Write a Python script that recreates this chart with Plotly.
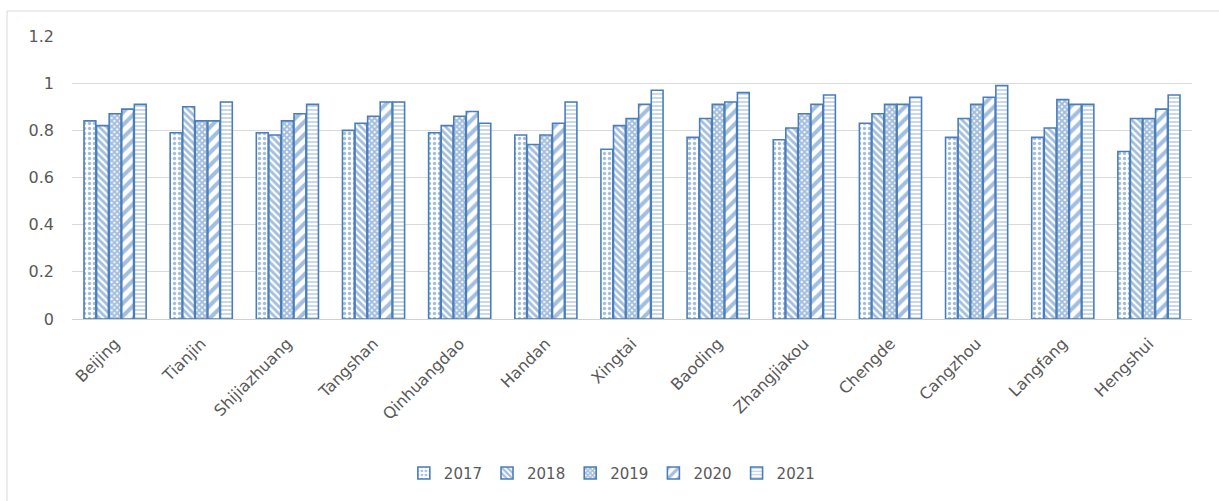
import plotly.graph_objects as go

cities = ["Beijing", "Tianjin", "Shijiazhuang", "Tangshan", "Qinhuangdao", "Handan",
          "Xingtai", "Baoding", "Zhangjiakou", "Chengde", "Cangzhou", "Langfang", "Hengshui"]
years = ["2017", "2018", "2019", "2020", "2021"]

v2017 = [0.84, 0.79, 0.79, 0.80, 0.79, 0.78, 0.72, 0.77, 0.76, 0.83, 0.77, 0.77, 0.71]
v2018 = [0.82, 0.90, 0.78, 0.83, 0.82, 0.74, 0.82, 0.85, 0.81, 0.87, 0.85, 0.81, 0.85]
v2019 = [0.87, 0.84, 0.84, 0.86, 0.86, 0.78, 0.85, 0.91, 0.87, 0.91, 0.91, 0.93, 0.85]
v2020 = [0.89, 0.84, 0.87, 0.92, 0.88, 0.83, 0.91, 0.92, 0.91, 0.91, 0.94, 0.91, 0.89]
v2021 = [0.91, 0.92, 0.91, 0.92, 0.83, 0.92, 0.97, 0.96, 0.95, 0.94, 0.99, 0.91, 0.95]
series = [v2017, v2018, v2019, v2020, v2021]

BLUE = "#4a7ebb"
patterns = [
    dict(shape=".", size=5, solidity=0.35),
    dict(shape="\\", size=5, solidity=0.55),
    dict(shape="x", size=4, solidity=0.75),
    dict(shape="/", size=9, solidity=0.45),
    dict(shape="-", size=4, solidity=0.3),
]

fig = go.Figure()
for name, vals, pat in zip(years, series, patterns):
    fig.add_trace(go.Bar(
        x=cities, y=vals, name=name,
        marker=dict(color="white", line=dict(color=BLUE, width=1.6),
                    pattern=dict(fgcolor=BLUE, bgcolor="white", **pat)),
    ))

font_family = "DejaVu Sans, sans-serif"
fig.update_layout(
    width=1219, height=501,
    margin=dict(l=72, r=27, t=36, b=182),
    paper_bgcolor="white", plot_bgcolor="white",
    barmode="group", bargap=0.27, bargroupgap=0.06,
    font=dict(family=font_family, color="#595959", size=16),
    legend=dict(orientation="h", x=0.482, xanchor="center", y=-0.545, yanchor="middle",
                font=dict(size=15, color="#595959"), traceorder="normal"),
    xaxis=dict(tickangle=-45, showgrid=False, showline=True, linecolor="#d0d0d0",
               linewidth=1, ticks="", tickfont=dict(size=16), ticklabelstandoff=8),
    yaxis=dict(range=[0, 1.2], dtick=0.2, showgrid=True, gridcolor="#d9d9d9",
               gridwidth=1, zeroline=False, showline=False, ticks="",
               tickfont=dict(size=16), ticklabelstandoff=17),
    shapes=[dict(type="rect", xref="paper", yref="paper",
                 x0=(7 - 72) / 1120, x1=(1230 - 72) / 1120,
                 y0=(182 - 520) / 283, y1=(182 + 283 + 25 - 182) / 283,
                 line=dict(color="#d9d9d9", width=1), fillcolor="rgba(0,0,0,0)", layer="below")],
)
fig.write_html("out.html")
